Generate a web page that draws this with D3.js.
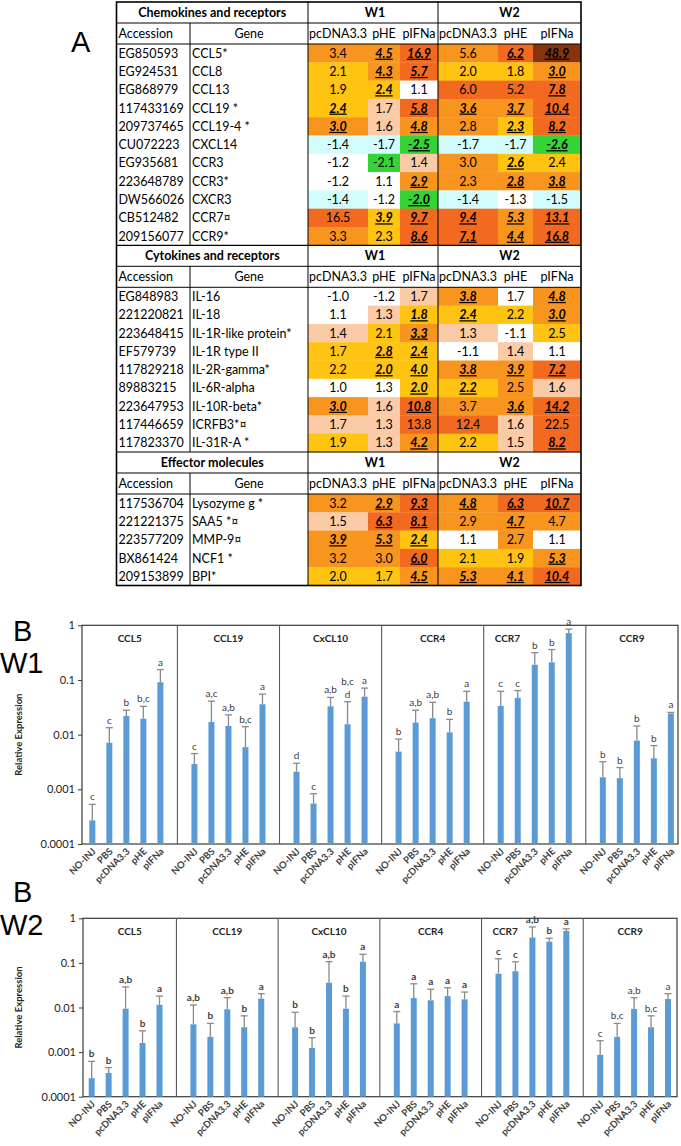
<!DOCTYPE html>
<html><head><meta charset="utf-8">
<script src="https://cdn.jsdelivr.net/npm/d3@7"></script>
<style>body{margin:0;background:#fff}svg{display:block}</style>
</head><body>
<svg id="c" width="681" height="1146"></svg>
<script>
// ---------------- Table data ----------------
const sectionNames = ["Chemokines and receptors", "Cytokines and receptors", "Effector molecules"];
const weekLabels = ["W1", "W2"];
const tableTreat = ["pcDNA3.3", "pHE", "pIFNa"];
const colHeads = ["Accession", "Gene"];

const chemAcc = ["EG850593","EG924531","EG868979","117433169","209737465","CU072223","EG935681","223648789","DW566026","CB512482","209156077"];
const chemGene = ["CCL5*","CCL8","CCL13","CCL19 *","CCL19-4 *","CXCL14","CCR3","CCR3*","CXCR3","CCR7¤","CCR9*"];
const chemVals = [
  [3.4,4.5,16.9,5.6,6.2,48.9],
  [2.1,4.3,5.7,2.0,1.8,3.0],
  [1.9,2.4,1.1,6.0,5.2,7.8],
  [2.4,1.7,5.8,3.6,3.7,10.4],
  [3.0,1.6,4.8,2.8,2.3,8.2],
  [-1.4,-1.7,-2.5,-1.7,-1.7,-2.6],
  [-1.2,-2.1,1.4,3.0,2.6,2.4],
  [-1.2,1.1,2.9,2.3,2.8,3.8],
  [-1.4,-1.2,-2.0,-1.4,-1.3,-1.5],
  [16.5,3.9,9.7,9.4,5.3,13.1],
  [3.3,2.3,8.6,7.1,4.4,16.8]];
const chemSig = ["011011","011001","010001","101111","101011","001001","000010","001011","001000","011111","001111"];
const chemHeat = ["OORORD","YORYYO","YYWRRR","YPROOR","OPOOYR","CCGCCG","WGPOYY","WWOOOO","CWGCWC","RYRROR","OYRROR"];

const cytoAcc = ["EG848983","221220821","223648415","EF579739","117829218","89883215","223647953","117446659","117823370"];
const cytoGene = ["IL-16","IL-18","IL-1R-like protein*","IL-1R type II","IL-2R-gamma*","IL-6R-alpha","IL-10R-beta*","ICRFB3*¤","IL-31R-A *"];
const cytoVals = [
  [-1.0,-1.2,1.7,3.8,1.7,4.8],
  [1.1,1.3,1.8,2.4,2.2,3.0],
  [1.4,2.1,3.3,1.3,-1.1,2.5],
  [1.7,2.8,2.4,-1.1,1.4,1.1],
  [2.2,2.0,4.0,3.8,3.9,7.2],
  [1.0,1.3,2.0,2.2,2.5,1.6],
  [3.0,1.6,10.8,3.7,3.6,14.2],
  [1.7,1.3,13.8,12.4,1.6,22.5],
  [1.9,1.3,4.2,2.2,1.5,8.2]];
const cytoSig = ["000101","001101","001000","011000","011111","001100","101011","000000","001001"];
const cytoHeat = ["WWPOWO","WPYYYO","PYOPWY","YYYWPW","YYYOOR","WWYYOP","OPROOR","PPRRPR","YPOYPR"];

const effAcc = ["117536704","221221375","223577209","BX861424","209153899"];
const effGene = ["Lysozyme g *","SAA5 *¤","MMP-9¤","NCF1 *","BPI*"];
const effVals = [
  [3.2,2.9,9.3,4.8,6.3,10.7],
  [1.5,6.3,8.1,2.9,4.7,4.7],
  [3.9,5.3,2.4,1.1,2.7,1.1],
  [3.2,3.0,6.0,2.1,1.9,5.3],
  [2.0,1.7,4.5,5.3,4.1,10.4]];
const effSig = ["011111","011010","111000","001001","001111"];
const effHeat = ["OORORR","PRROOO","OOYWOW","OORYYO","YYOOOR"];

// ---------------- Bar chart data ----------------
const treatments = ["NO-INJ","PBS","pcDNA3.3","pHE","pIFNa"];
const genesB = ["CCL5","CCL19","CxCL10","CCR4","CCR7","CCR9"];
const yTicks = [0.0001, 0.001, 0.01, 0.1, 1];
const yTickLabels = ["0.0001","0.001","0.01","0.1","1"];

const w1Mean = [
  [0.00027,0.0071,0.022,0.0196,0.091],
  [0.0029,0.017,0.0144,0.0059,0.036],
  [0.0021,0.00055,0.033,0.0155,0.0495],
  [0.0049,0.0166,0.020,0.011,0.040],
  [0.0335,0.047,0.19,0.21,0.72],
  [0.00166,0.0016,0.0078,0.0037,0.0245]];
const w1Upper = [
  [0.00053,0.0134,0.028,0.033,0.155],
  [0.0045,0.041,0.023,0.014,0.055],
  [0.003,0.00083,0.048,0.04,0.071],
  [0.0083,0.028,0.039,0.019,0.062],
  [0.062,0.064,0.316,0.36,0.85],
  [0.0032,0.0025,0.0144,0.0063,0.0255]];
const w1Letters = [
  ["c","c","b","b,c","a"],
  ["c","a,c","a,b","b,c","a"],
  ["d","c","a,b","b,c|d","a"],
  ["b","a,b","a,b","b","a"],
  ["c","c","b","b","a"],
  ["b","b","b","b","a"]];

const w2Mean = [
  [0.00026,0.00034,0.0094,0.0016,0.0115],
  [0.0042,0.0022,0.0091,0.0036,0.0158],
  [0.0036,0.00124,0.036,0.0094,0.106],
  [0.0044,0.0163,0.0145,0.018,0.0152],
  [0.057,0.065,0.37,0.30,0.52],
  [0.00087,0.0022,0.0093,0.0036,0.0155]];
const w2Upper = [
  [0.00062,0.00045,0.029,0.003,0.018],
  [0.0114,0.0044,0.0166,0.0065,0.0204],
  [0.0078,0.0021,0.107,0.018,0.156],
  [0.0081,0.034,0.0257,0.0277,0.0222],
  [0.124,0.106,0.64,0.355,0.58],
  [0.0018,0.0044,0.0166,0.0065,0.0204]];
const w2Letters = [
  ["b","b","a,b","b","a"],
  ["a,b","b","a,b","b","a"],
  ["b","b","a,b","b","a"],
  ["a","a","a","a","a"],
  ["c","c","a,b","b","a"],
  ["c","b,c","a,b","b,c","a"]];

// ---------------- Drawing ----------------
const FONT = "Lato, 'Open Sans', sans-serif";
const ARIAL = "'Liberation Sans', Arial, sans-serif";
const svg = d3.select("#c");

const heatColor = d3.scaleOrdinal()
  .domain(["G","C","W","P","Y","O","R","D"])
  .range(["#35D335","#D3FCFD","#FFFFFF","#FACBA6","#FFC312","#F7951F","#F26A1F","#86340E"]);

const sections = [
  {name: sectionNames[0], acc: chemAcc, gene: chemGene, vals: chemVals, sig: chemSig, heat: chemHeat},
  {name: sectionNames[1], acc: cytoAcc, gene: cytoGene, vals: cytoVals, sig: cytoSig, heat: cytoHeat},
  {name: sectionNames[2], acc: effAcc, gene: effGene, vals: effVals, sig: effSig, heat: effHeat}];

const T = {left: 116.5, acc: 190, w1: 308, w2: 438, right: 581, top: 2, hH: 21, dH: 18.3};
const subEdges = [[308, 368, 400, 438], [438, 498, 533, 581]];

const tg = svg.append("g").attr("font-family", FONT).attr("font-size", 12.5).attr("fill", "#000");
let yCur = T.top;
sections.forEach((sec, si) => {
  const yHead = yCur, ySub = yCur + T.hH, yData = yCur + 2 * T.hH;
  const yEnd = yData + sec.acc.length * T.dH;
  // cells
  sec.vals.forEach((row, ri) => {
    row.forEach((v, ci) => {
      const e = subEdges[Math.floor(ci / 3)], k = ci % 3;
      const ry = yData + ri * T.dH;
      tg.append("rect").attr("x", e[k]).attr("y", ry).attr("width", e[k + 1] - e[k]).attr("height", T.dH + 0.3)
        .attr("fill", heatColor(sec.heat[ri][ci]));
      const sig = sec.sig[ri][ci] === "1";
      const t = tg.append("text").attr("x", (e[k] + e[k + 1]) / 2).attr("y", ry + T.dH / 2 + 4.5)
        .attr("text-anchor", "middle").text(v.toFixed(1));
      if (sig) t.attr("font-weight", "bold").attr("font-style", "italic").style("text-decoration", "underline");
    });
    const ry = yData + ri * T.dH + T.dH / 2 + 4.5;
    tg.append("text").attr("x", T.left + 2).attr("y", ry).text(sec.acc[ri]);
    tg.append("text").attr("x", T.acc + 2).attr("y", ry).text(sec.gene[ri]);
  });
  // section header
  const hb = yHead + T.hH / 2 + 4.5;
  tg.append("text").attr("x", (T.left + T.w1) / 2).attr("y", hb).attr("text-anchor", "middle").attr("font-weight", "bold").text(sec.name);
  tg.append("text").attr("x", (T.w1 + T.w2) / 2 + 2).attr("y", hb).attr("text-anchor", "middle").attr("font-weight", "bold").text(weekLabels[0]);
  tg.append("text").attr("x", (T.w2 + T.right) / 2).attr("y", hb).attr("text-anchor", "middle").attr("font-weight", "bold").text(weekLabels[1]);
  // sub header
  const sb = ySub + T.hH / 2 + 4.5;
  tg.append("text").attr("x", T.left + 2).attr("y", sb).text(colHeads[0]);
  tg.append("text").attr("x", (T.acc + T.w1) / 2).attr("y", sb).attr("text-anchor", "middle").text(colHeads[1]);
  subEdges.forEach(e => tableTreat.forEach((tt, k) => {
    tg.append("text").attr("x", (e[k] + e[k + 1]) / 2).attr("y", sb).attr("text-anchor", "middle").text(tt);
  }));
  // lines
  const ln = (x1, y1, x2, y2, w) => tg.append("line").attr("x1", x1).attr("y1", y1).attr("x2", x2).attr("y2", y2)
    .attr("stroke", "#000").attr("stroke-width", w || 1);
  if (si > 0) ln(T.left, yHead, T.right, yHead, 1.2);
  ln(T.left, ySub, T.right, ySub);
  ln(T.left, yData, T.right, yData);
  ln(T.acc, ySub, T.acc, yEnd);
  ln(T.w1, yHead, T.w1, yEnd);
  ln(T.w2, yHead, T.w2, yEnd);
  yCur = yEnd;
});
tg.append("rect").attr("x", T.left).attr("y", T.top).attr("width", T.right - T.left).attr("height", yCur - T.top)
  .attr("fill", "none").attr("stroke", "#000").attr("stroke-width", 1.6);

// Panel labels
const lab = (txt, x, y) => svg.append("text").attr("x", x).attr("y", y).attr("font-family", ARIAL)
  .attr("font-size", 29).attr("fill", "#000").text(txt);
lab("A", 71, 52);
lab("B", 13, 641);
lab(weekLabels[0], 0, 673);
lab("B", 13, 902);
lab(weekLabels[1], 0, 935);

function drawChart(o) {
  const g = svg.append("g").attr("font-family", FONT);
  const y = d3.scaleLog().domain([1e-4, 1]).range([o.bottom, o.top]);
  const gx = d3.scaleBand().domain(genesB).range([o.gx0, o.gx0 + genesB.length * o.step]);
  const ix = d3.scalePoint().domain(treatments).range([o.step / 6, o.step * 5 / 6]);
  const bw = 6;

  // frame & dividers
  g.append("rect").attr("x", o.left).attr("y", o.top).attr("width", o.right - o.left).attr("height", o.bottom - o.top)
    .attr("fill", "none").attr("stroke", "#3a3a3a").attr("stroke-width", 1.2);
  genesB.slice(1).forEach(gn => {
    g.append("line").attr("x1", gx(gn)).attr("x2", gx(gn)).attr("y1", o.top).attr("y2", o.bottom)
      .attr("stroke", "#5a5a5a").attr("stroke-width", 1.1);
  });

  // y axis
  const ax = g.append("g").attr("transform", `translate(${o.left},0)`)
    .call(d3.axisLeft(y).tickValues(yTicks).tickFormat((d, i) => yTickLabels[i]).tickSize(4).tickPadding(3));
  ax.select(".domain").remove();
  ax.selectAll("line").attr("stroke", "#3a3a3a");
  ax.selectAll("text").attr("font-family", FONT).attr("font-size", 11).attr("fill", "#222");

  g.append("text").attr("transform", `translate(22,${(o.top + o.bottom) / 2}) rotate(-90)`)
    .attr("text-anchor", "middle").attr("font-size", 9.5).attr("font-weight", "bold").attr("fill", "#262626")
    .text("Relative Expression");

  genesB.forEach((gn, gi) => {
    const b0 = Math.max(gx(gn), o.left), b1 = Math.min(gx(gn) + gx.bandwidth(), o.right);
    const tt = g.append("text").attr("y", o.top + 17).attr("font-size", 10).attr("font-weight", "bold")
      .attr("fill", "#262626").text(gn);
    if (gn === "CCR7") tt.attr("x", gx(gn) + 11).attr("text-anchor", "start");
    else tt.attr("x", (b0 + b1) / 2).attr("text-anchor", "middle");

    treatments.forEach((tr, ti) => {
      const cx = gx(gn) + ix(tr);
      const m = o.mean[gi][ti], u = o.upper[gi][ti];
      // error bar
      g.append("line").attr("x1", cx).attr("x2", cx).attr("y1", y(m)).attr("y2", y(u))
        .attr("stroke", "#8a8a8a").attr("stroke-width", 1.3);
      g.append("line").attr("x1", cx - 3.5).attr("x2", cx + 3.5).attr("y1", y(u)).attr("y2", y(u))
        .attr("stroke", "#8a8a8a").attr("stroke-width", 1.3);
      g.append("rect").attr("x", cx - bw / 2).attr("y", y(m)).attr("width", bw).attr("height", o.bottom - y(m))
        .attr("fill", "#5B9BD5");
      // letters
      const lines = o.letters[gi][ti].split("|");
      lines.forEach((lt, li) => {
        g.append("text").attr("x", cx).attr("y", y(u) - 4 - (lines.length - 1 - li) * 13)
          .attr("text-anchor", "middle").attr("font-size", 10)
          .attr("font-weight", o.bold(gn) ? "bold" : "normal").attr("fill", "#404040").text(lt);
      });
      // x labels
      g.append("text").attr("transform", `translate(${cx + 4},${o.bottom + 8}) rotate(-45)`)
        .attr("text-anchor", "end").attr("font-size", 9.5).attr("font-weight", "bold").attr("fill", "#404040")
        .text(tr);
    });
  });
}

drawChart({top: 625.3, bottom: 844, left: 82, right: 678, gx0: 75.3, step: 102.1,
  mean: w1Mean, upper: w1Upper, letters: w1Letters, bold: () => false});
drawChart({top: 918.3, bottom: 1096.7, left: 83, right: 677, gx0: 74.75, step: 101.7,
  mean: w2Mean, upper: w2Upper, letters: w2Letters, bold: gn => gn !== "CCR9"});
</script>
</body></html>
